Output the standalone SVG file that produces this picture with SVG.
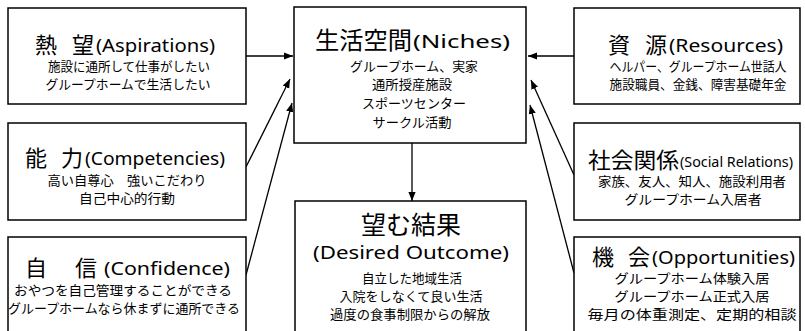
<svg xmlns="http://www.w3.org/2000/svg" width="805" height="331" viewBox="0 0 805 331">
<defs>
<marker id="ah" viewBox="0 0 10 10" refX="10" refY="5" markerWidth="9" markerHeight="9" markerUnits="userSpaceOnUse" orient="auto">
<path d="M0,1 L10,5 L0,9 Z" fill="#000"/>
</marker>
<style>
.box{fill:#fff;stroke:#000;stroke-width:1.5}
.k{font-family:"Noto Sans CJK JP",sans-serif;font-size:22px;fill:#000}
.e{font-family:"Noto Sans","Liberation Sans",sans-serif;font-size:18px;fill:#000}
.s{font-family:"Noto Sans CJK JP",sans-serif;font-size:13px;fill:#000;text-anchor:middle}
.c line{stroke:#000;stroke-width:1.3;marker-end:url(#ah)}
</style>
</defs>
<rect width="805" height="331" fill="#fff"/>
<g class="c">
<line x1="246" y1="56" x2="293" y2="56"/>
<line x1="246" y1="167" x2="290" y2="79"/>
<line x1="246" y1="275" x2="292" y2="103"/>
<line x1="574" y1="56" x2="528" y2="56"/>
<line x1="574" y1="175" x2="531" y2="80"/>
<line x1="574" y1="273" x2="530" y2="105"/>
<line x1="412" y1="143" x2="412" y2="201"/>
</g>
<g id="aspirations">
<rect class="box" x="8" y="8" width="238" height="96"/>
<text class="k" x="35" y="53">熱</text>
<text class="k" x="72" y="53">望</text>
<text class="e" x="96" y="52" textLength="119" lengthAdjust="spacingAndGlyphs">(Aspirations)</text>
<text class="s" x="129" y="71" textLength="162" lengthAdjust="spacingAndGlyphs">施設に通所して仕事がしたい</text>
<text class="s" x="128" y="89" textLength="165" lengthAdjust="spacingAndGlyphs">グループホームで生活したい</text>
</g>
<g id="competencies">
<rect class="box" x="8" y="123" width="238" height="97"/>
<text class="k" x="25" y="166">能</text>
<text class="k" x="61" y="166">力</text>
<text class="e" x="85" y="165" textLength="140" lengthAdjust="spacingAndGlyphs">(Competencies)</text>
<text class="s" x="127" y="185" textLength="159" lengthAdjust="spacingAndGlyphs">高い自尊心　強いこだわり</text>
<text class="s" x="127" y="203" textLength="96" lengthAdjust="spacingAndGlyphs">自己中心的行動</text>
</g>
<g id="confidence">
<rect class="box" x="8" y="237" width="238" height="110"/>
<text class="k" x="25" y="276">自</text>
<text class="k" x="75" y="276">信</text>
<text class="e" x="104" y="275" textLength="126" lengthAdjust="spacingAndGlyphs">(Confidence)</text>
<text class="s" x="123" y="295" textLength="218" lengthAdjust="spacingAndGlyphs">おやつを自己管理することができる</text>
<text class="s" x="124" y="313" textLength="232" lengthAdjust="spacingAndGlyphs">グループホームなら休まずに通所できる</text>
</g>
<g id="niches">
<rect class="box" x="294" y="7" width="232" height="136"/>
<text class="k" x="315" y="49" style="font-size:24px" textLength="97" lengthAdjust="spacingAndGlyphs">生活空間</text>
<text class="e" x="413" y="48" textLength="97" lengthAdjust="spacingAndGlyphs">(Niches)</text>
<text class="s" x="414" y="71" textLength="128" lengthAdjust="spacingAndGlyphs">グループホーム、実家</text>
<text class="s" x="412" y="89" textLength="80" lengthAdjust="spacingAndGlyphs">通所授産施設</text>
<text class="s" x="414" y="108" textLength="104" lengthAdjust="spacingAndGlyphs">スポーツセンター</text>
<text class="s" x="412" y="127" textLength="79" lengthAdjust="spacingAndGlyphs">サークル活動</text>
</g>
<g id="outcome">
<rect class="box" x="295" y="201" width="231" height="146"/>
<text class="k" x="411" y="234" style="font-size:25px;text-anchor:middle">望む結果</text>
<text class="e" x="411" y="259" style="text-anchor:middle;font-size:18px" textLength="196" lengthAdjust="spacingAndGlyphs">(Desired Outcome)</text>
<text class="s" x="412" y="283" textLength="100" lengthAdjust="spacingAndGlyphs">自立した地域生活</text>
<text class="s" x="411" y="301" textLength="143" lengthAdjust="spacingAndGlyphs">入院をしなくて良い生活</text>
<text class="s" x="410" y="319" textLength="160" lengthAdjust="spacingAndGlyphs">過度の食事制限からの解放</text>
</g>
<g id="resources">
<rect class="box" x="574" y="8" width="226" height="96"/>
<text class="k" x="608" y="53">資</text>
<text class="k" x="645" y="53">源</text>
<text class="e" x="669" y="52" textLength="114" lengthAdjust="spacingAndGlyphs">(Resources)</text>
<text class="s" x="698" y="71" textLength="177" lengthAdjust="spacingAndGlyphs">ヘルパー、グループホーム世話人</text>
<text class="s" x="698" y="89" textLength="177" lengthAdjust="spacingAndGlyphs">施設職員、金銭、障害基礎年金</text>
</g>
<g id="social">
<rect class="box" x="574" y="123" width="226" height="97"/>
<text class="k" x="588" y="168" textLength="91" lengthAdjust="spacingAndGlyphs">社会関係</text>
<text class="e" x="680" y="167" style="font-size:15px" textLength="113" lengthAdjust="spacingAndGlyphs">(Social Relations)</text>
<text class="s" x="692" y="186" textLength="188" lengthAdjust="spacingAndGlyphs">家族、友人、知人、施設利用者</text>
<text class="s" x="693" y="204" textLength="137" lengthAdjust="spacingAndGlyphs">グループホーム入居者</text>
</g>
<g id="opportunities">
<rect class="box" x="574" y="237" width="226" height="110"/>
<text class="k" x="592" y="265">機</text>
<text class="k" x="628" y="265">会</text>
<text class="e" x="652" y="264" textLength="143" lengthAdjust="spacingAndGlyphs">(Opportunities)</text>
<text class="s" x="692" y="283" textLength="155" lengthAdjust="spacingAndGlyphs">グループホーム体験入居</text>
<text class="s" x="692" y="301" textLength="155" lengthAdjust="spacingAndGlyphs">グループホーム正式入居</text>
<text class="s" x="692" y="319" textLength="209" lengthAdjust="spacingAndGlyphs">毎月の体重測定、定期的相談</text>
</g>
</svg>
